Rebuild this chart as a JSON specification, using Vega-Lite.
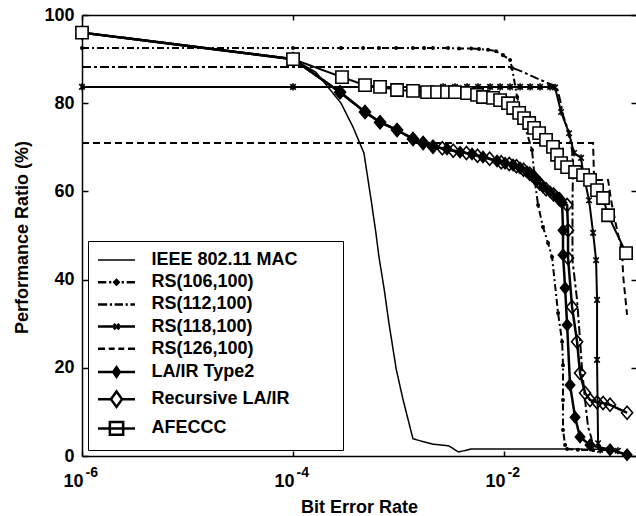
{
  "$schema": "https://vega.github.io/schema/vega-lite/v6.json",
  "width": 554,
  "height": 441,
  "autosize": {"type": "none"},
  "padding": {"left": 82, "top": 15, "right": 0, "bottom": 60},
  "config": {"view": {"stroke": null}, "font": "Liberation Sans"},
  "data": {"values": [
    {"s":"IEEE 802.11 MAC","ber":1e-6,"pr":96},{"s":"IEEE 802.11 MAC","ber":1e-4,"pr":90},{"s":"IEEE 802.11 MAC","ber":1.65e-4,"pr":87},{"s":"IEEE 802.11 MAC","ber":2.19e-4,"pr":83.4},{"s":"IEEE 802.11 MAC","ber":2.85e-4,"pr":80},{"s":"IEEE 802.11 MAC","ber":3.7e-4,"pr":74.6},{"s":"IEEE 802.11 MAC","ber":4.7e-4,"pr":68.7},{"s":"IEEE 802.11 MAC","ber":5.5e-4,"pr":58},{"s":"IEEE 802.11 MAC","ber":6.1e-4,"pr":50.6},{"s":"IEEE 802.11 MAC","ber":6.5e-4,"pr":45.4},{"s":"IEEE 802.11 MAC","ber":7.3e-4,"pr":37.9},{"s":"IEEE 802.11 MAC","ber":8.1e-4,"pr":30.2},{"s":"IEEE 802.11 MAC","ber":9.5e-4,"pr":19.7},{"s":"IEEE 802.11 MAC","ber":1.1e-3,"pr":12.9},{"s":"IEEE 802.11 MAC","ber":1.37e-3,"pr":3.9},{"s":"IEEE 802.11 MAC","ber":2.1e-3,"pr":2.7},{"s":"IEEE 802.11 MAC","ber":3.0e-3,"pr":2.3},{"s":"IEEE 802.11 MAC","ber":3.7e-3,"pr":0.9},{"s":"IEEE 802.11 MAC","ber":4.9e-3,"pr":1.6},{"s":"IEEE 802.11 MAC","ber":0.04,"pr":1.6},{"s":"IEEE 802.11 MAC","ber":0.09,"pr":1.5},

    {"s":"RS(106,100)","ber":1e-6,"pr":92.5},{"s":"RS(106,100)","ber":1e-4,"pr":92.5},{"s":"RS(106,100)","ber":2.85e-4,"pr":92.5},{"s":"RS(106,100)","ber":4.61e-4,"pr":92.5},{"s":"RS(106,100)","ber":6.53e-4,"pr":92.5},{"s":"RS(106,100)","ber":9.47e-4,"pr":92.5},{"s":"RS(106,100)","ber":1.37e-3,"pr":92.5},{"s":"RS(106,100)","ber":1.745e-3,"pr":92.5},{"s":"RS(106,100)","ber":2.12e-3,"pr":92.5},{"s":"RS(106,100)","ber":2.945e-3,"pr":92.5},{"s":"RS(106,100)","ber":3.75e-3,"pr":92.4},{"s":"RS(106,100)","ber":4.87e-3,"pr":92.4},{"s":"RS(106,100)","ber":5.79e-3,"pr":92.3},{"s":"RS(106,100)","ber":7.05e-3,"pr":92.1},{"s":"RS(106,100)","ber":8.39e-3,"pr":91.8},{"s":"RS(106,100)","ber":9.78e-3,"pr":90.9},{"s":"RS(106,100)","ber":0.0114,"pr":89.8},{"s":"RS(106,100)","ber":0.0119,"pr":88.0},{"s":"RS(106,100)","ber":0.0133,"pr":81.4},{"s":"RS(106,100)","ber":0.0151,"pr":76.2},{"s":"RS(106,100)","ber":0.0184,"pr":69.4},{"s":"RS(106,100)","ber":0.0197,"pr":61.9},{"s":"RS(106,100)","ber":0.021,"pr":56.9},{"s":"RS(106,100)","ber":0.0234,"pr":51.9},{"s":"RS(106,100)","ber":0.0261,"pr":48.3},{"s":"RS(106,100)","ber":0.0285,"pr":45.1},{"s":"RS(106,100)","ber":0.0325,"pr":32.4},{"s":"RS(106,100)","ber":0.0355,"pr":25.9},{"s":"RS(106,100)","ber":0.0362,"pr":20.6},{"s":"RS(106,100)","ber":0.0362,"pr":12.7},{"s":"RS(106,100)","ber":0.0362,"pr":5.9},{"s":"RS(106,100)","ber":0.0379,"pr":2.5},{"s":"RS(106,100)","ber":0.0396,"pr":1.6},{"s":"RS(106,100)","ber":0.05,"pr":1.4},{"s":"RS(106,100)","ber":0.07,"pr":1.3},

    {"s":"RS(112,100)","ber":1e-6,"pr":88.2},{"s":"RS(112,100)","ber":1e-4,"pr":88.2},{"s":"RS(112,100)","ber":0.0114,"pr":88.2},{"s":"RS(112,100)","ber":0.0151,"pr":87.1},{"s":"RS(112,100)","ber":0.022,"pr":85.3},{"s":"RS(112,100)","ber":0.0291,"pr":84.1},{"s":"RS(112,100)","ber":0.0318,"pr":83.4},{"s":"RS(112,100)","ber":0.034,"pr":80.7},{"s":"RS(112,100)","ber":0.0362,"pr":77.3},{"s":"RS(112,100)","ber":0.0404,"pr":73.9},{"s":"RS(112,100)","ber":0.0441,"pr":69.4},{"s":"RS(112,100)","ber":0.0451,"pr":65.5},{"s":"RS(112,100)","ber":0.0445,"pr":58},{"s":"RS(112,100)","ber":0.0445,"pr":44.4},{"s":"RS(112,100)","ber":0.0492,"pr":35.4},{"s":"RS(112,100)","ber":0.0525,"pr":26.3},{"s":"RS(112,100)","ber":0.0549,"pr":19.5},{"s":"RS(112,100)","ber":0.0586,"pr":12.7},{"s":"RS(112,100)","ber":0.0625,"pr":6.6},{"s":"RS(112,100)","ber":0.0668,"pr":4.3},{"s":"RS(112,100)","ber":0.0698,"pr":2.0},{"s":"RS(112,100)","ber":0.101,"pr":1.4},

    {"s":"RS(118,100)","ber":1e-6,"pr":83.7},{"s":"RS(118,100)","ber":1e-4,"pr":83.7},{"s":"RS(118,100)","ber":2.64e-3,"pr":83.7},{"s":"RS(118,100)","ber":3.43e-3,"pr":83.7},{"s":"RS(118,100)","ber":4.46e-3,"pr":83.7},{"s":"RS(118,100)","ber":5.67e-3,"pr":83.7},{"s":"RS(118,100)","ber":7.37e-3,"pr":83.7},{"s":"RS(118,100)","ber":9.17e-3,"pr":83.7},{"s":"RS(118,100)","ber":0.0114,"pr":83.7},{"s":"RS(118,100)","ber":0.01418,"pr":83.7},{"s":"RS(118,100)","ber":0.01764,"pr":83.7},{"s":"RS(118,100)","ber":0.02194,"pr":83.7},{"s":"RS(118,100)","ber":0.0273,"pr":83.7},{"s":"RS(118,100)","ber":0.0304,"pr":83.6},{"s":"RS(118,100)","ber":0.0347,"pr":78.0},{"s":"RS(118,100)","ber":0.0413,"pr":73.2},{"s":"RS(118,100)","ber":0.0461,"pr":68.7},{"s":"RS(118,100)","ber":0.0537,"pr":67.6},{"s":"RS(118,100)","ber":0.0561,"pr":64.2},{"s":"RS(118,100)","ber":0.0639,"pr":58.0},{"s":"RS(118,100)","ber":0.0698,"pr":50.6},{"s":"RS(118,100)","ber":0.0745,"pr":44.4},{"s":"RS(118,100)","ber":0.0761,"pr":35.4},{"s":"RS(118,100)","ber":0.0761,"pr":21.8},{"s":"RS(118,100)","ber":0.0778,"pr":2.9},{"s":"RS(118,100)","ber":0.0813,"pr":1.4},{"s":"RS(118,100)","ber":0.12,"pr":1.2},

    {"s":"RS(126,100)","ber":1e-6,"pr":71},{"s":"RS(126,100)","ber":1e-4,"pr":71},{"s":"RS(126,100)","ber":0.0698,"pr":71},{"s":"RS(126,100)","ber":0.0713,"pr":62.6},{"s":"RS(126,100)","ber":0.0968,"pr":62.6},{"s":"RS(126,100)","ber":0.1033,"pr":58},{"s":"RS(126,100)","ber":0.1178,"pr":51.2},{"s":"RS(126,100)","ber":0.1314,"pr":46.7},{"s":"RS(126,100)","ber":0.1343,"pr":41},{"s":"RS(126,100)","ber":0.1465,"pr":32},

    {"s":"Recursive LA/IR","ber":1e-6,"pr":96},{"s":"Recursive LA/IR","ber":1e-4,"pr":90},{"s":"Recursive LA/IR","ber":2.79e-4,"pr":82.5},{"s":"Recursive LA/IR","ber":4.81e-4,"pr":78.0},{"s":"Recursive LA/IR","ber":6.68e-4,"pr":75.7},{"s":"Recursive LA/IR","ber":9.68e-4,"pr":73.9},{"s":"Recursive LA/IR","ber":1.37e-3,"pr":71.9},{"s":"Recursive LA/IR","ber":1.71e-3,"pr":71.0},{"s":"Recursive LA/IR","ber":2.12e-3,"pr":70.1},{"s":"Recursive LA/IR","ber":2.6e-3,"pr":69.8},{"s":"Recursive LA/IR","ber":3.3e-3,"pr":69.2},{"s":"Recursive LA/IR","ber":4.4e-3,"pr":68.7},{"s":"Recursive LA/IR","ber":5.6e-3,"pr":68.1},{"s":"Recursive LA/IR","ber":7.3e-3,"pr":67.4},{"s":"Recursive LA/IR","ber":9.4e-3,"pr":66.6},{"s":"Recursive LA/IR","ber":0.0112,"pr":66.2},{"s":"Recursive LA/IR","ber":0.0131,"pr":65.7},{"s":"Recursive LA/IR","ber":0.0153,"pr":64.9},{"s":"Recursive LA/IR","ber":0.0175,"pr":64.0},{"s":"Recursive LA/IR","ber":0.0195,"pr":63.1},{"s":"Recursive LA/IR","ber":0.0218,"pr":61.8},{"s":"Recursive LA/IR","ber":0.025,"pr":60.5},{"s":"Recursive LA/IR","ber":0.0295,"pr":59.3},{"s":"Recursive LA/IR","ber":0.0335,"pr":58.2},{"s":"Recursive LA/IR","ber":0.0396,"pr":56.9},{"s":"Recursive LA/IR","ber":0.0404,"pr":51.2},{"s":"Recursive LA/IR","ber":0.0404,"pr":44.9},{"s":"Recursive LA/IR","ber":0.0441,"pr":33.8},{"s":"Recursive LA/IR","ber":0.0492,"pr":25.9},{"s":"Recursive LA/IR","ber":0.0525,"pr":18.8},{"s":"Recursive LA/IR","ber":0.0586,"pr":14.3},{"s":"Recursive LA/IR","ber":0.0653,"pr":12.7},{"s":"Recursive LA/IR","ber":0.0761,"pr":12.2},{"s":"Recursive LA/IR","ber":0.0868,"pr":12.0},{"s":"Recursive LA/IR","ber":0.101,"pr":11.6},{"s":"Recursive LA/IR","ber":0.1465,"pr":9.8},

    {"s":"LA/IR Type2","ber":1e-6,"pr":96},{"s":"LA/IR Type2","ber":1e-4,"pr":90},{"s":"LA/IR Type2","ber":2.79e-4,"pr":82.5},{"s":"LA/IR Type2","ber":4.81e-4,"pr":78.0},{"s":"LA/IR Type2","ber":6.68e-4,"pr":75.7},{"s":"LA/IR Type2","ber":9.68e-4,"pr":73.9},{"s":"LA/IR Type2","ber":1.37e-3,"pr":71.9},{"s":"LA/IR Type2","ber":1.71e-3,"pr":71.0},{"s":"LA/IR Type2","ber":2.12e-3,"pr":70.1},{"s":"LA/IR Type2","ber":2.88e-3,"pr":69.6},{"s":"LA/IR Type2","ber":3.83e-3,"pr":68.9},{"s":"LA/IR Type2","ber":4.97e-3,"pr":68.5},{"s":"LA/IR Type2","ber":6.32e-3,"pr":67.8},{"s":"LA/IR Type2","ber":8.58e-3,"pr":66.9},{"s":"LA/IR Type2","ber":0.01022,"pr":66.4},{"s":"LA/IR Type2","ber":0.01217,"pr":66.0},{"s":"LA/IR Type2","ber":0.01418,"pr":65.3},{"s":"LA/IR Type2","ber":0.01652,"pr":64.4},{"s":"LA/IR Type2","ber":0.0184,"pr":63.5},{"s":"LA/IR Type2","ber":0.02055,"pr":62.6},{"s":"LA/IR Type2","ber":0.0234,"pr":61.0},{"s":"LA/IR Type2","ber":0.0273,"pr":59.9},{"s":"LA/IR Type2","ber":0.0318,"pr":58.7},{"s":"LA/IR Type2","ber":0.0355,"pr":57.4},{"s":"LA/IR Type2","ber":0.0362,"pr":51.2},{"s":"LA/IR Type2","ber":0.0362,"pr":45.6},{"s":"LA/IR Type2","ber":0.0379,"pr":38.1},{"s":"LA/IR Type2","ber":0.0396,"pr":29.7},{"s":"LA/IR Type2","ber":0.0422,"pr":16.1},{"s":"LA/IR Type2","ber":0.0471,"pr":8.8},{"s":"LA/IR Type2","ber":0.0525,"pr":4.3},{"s":"LA/IR Type2","ber":0.0653,"pr":2.5},{"s":"LA/IR Type2","ber":0.101,"pr":1.4},{"s":"LA/IR Type2","ber":0.1465,"pr":0.3},

    {"s":"AFECCC","ber":1e-6,"pr":96},{"s":"AFECCC","ber":1e-4,"pr":90},{"s":"AFECCC","ber":2.91e-4,"pr":85.9},{"s":"AFECCC","ber":4.81e-4,"pr":84.1},{"s":"AFECCC","ber":6.68e-4,"pr":83.7},{"s":"AFECCC","ber":9.68e-4,"pr":83.0},{"s":"AFECCC","ber":1.37e-3,"pr":82.8},{"s":"AFECCC","ber":1.862e-3,"pr":82.5},{"s":"AFECCC","ber":2.317e-3,"pr":82.5},{"s":"AFECCC","ber":2.88e-3,"pr":82.5},{"s":"AFECCC","ber":3.43e-3,"pr":82.5},{"s":"AFECCC","ber":4.46e-3,"pr":82.3},{"s":"AFECCC","ber":5.55e-3,"pr":81.9},{"s":"AFECCC","ber":6.32e-3,"pr":81.4},{"s":"AFECCC","ber":7.86e-3,"pr":81.2},{"s":"AFECCC","ber":9.17e-3,"pr":80.7},{"s":"AFECCC","ber":0.0109,"pr":80.0},{"s":"AFECCC","ber":0.0122,"pr":78.9},{"s":"AFECCC","ber":0.0139,"pr":77.8},{"s":"AFECCC","ber":0.01547,"pr":76.6},{"s":"AFECCC","ber":0.0173,"pr":75.5},{"s":"AFECCC","ber":0.01925,"pr":74.4},{"s":"AFECCC","ber":0.0215,"pr":73.2},{"s":"AFECCC","ber":0.025,"pr":71.7},{"s":"AFECCC","ber":0.0291,"pr":70.1},{"s":"AFECCC","ber":0.0318,"pr":68.3},{"s":"AFECCC","ber":0.0347,"pr":66.4},{"s":"AFECCC","ber":0.0396,"pr":65.5},{"s":"AFECCC","ber":0.0471,"pr":64.4},{"s":"AFECCC","ber":0.0561,"pr":63.7},{"s":"AFECCC","ber":0.0653,"pr":62.6},{"s":"AFECCC","ber":0.0761,"pr":60.3},{"s":"AFECCC","ber":0.0868,"pr":58.5},{"s":"AFECCC","ber":0.0968,"pr":54.6},{"s":"AFECCC","ber":0.1434,"pr":46.0}
  ]},
  "layer": [
    {
      "mark": {"type": "line", "clip": false, "color": "black"},
      "encoding": {
        "x": {"field": "ber", "type": "quantitative",
          "scale": {"type": "log", "domain": [1e-6, 0.178], "nice": false},
          "axis": {"orient": "bottom", "values": [1e-6, 1e-4, 1e-2], "labelExpr": "'10'",
            "labelAlign": "right", "labelOffset": 1, "labelBaseline": "top", "labelPadding": 21,
            "labelFlush": false, "labelOverlap": false, "labelBound": false,
            "labelFont": "Liberation Sans", "labelFontSize": 18, "labelFontWeight": "bold", "labelColor": "black",
            "tickSize": -5, "tickWidth": 1.5, "tickColor": "black", "domainColor": "black", "domainWidth": 1.5, "grid": false,
            "title": "Bit Error Rate", "titleFont": "Liberation Sans", "titleFontSize": 18, "titleFontWeight": "bold", "titleColor": "black",
            "titleBaseline": "alphabetic", "titleAlign": "center", "titleX": 277, "titleY": 56}},
        "y": {"field": "pr", "type": "quantitative",
          "scale": {"domain": [0, 100], "nice": false, "zero": false},
          "axis": {"orient": "left", "values": [0, 20, 40, 60, 80, 100],
            "labelPadding": 14, "labelFlush": false, "labelOverlap": false, "labelBound": false,
            "labelFont": "Liberation Sans", "labelFontSize": 18, "labelFontWeight": "bold", "labelColor": "black",
            "tickSize": -6, "tickWidth": 1.5, "tickColor": "black", "domainColor": "black", "domainWidth": 1.5, "grid": false,
            "title": "Performance Ratio (%)", "titleFont": "Liberation Sans", "titleFontSize": 18, "titleFontWeight": "bold", "titleColor": "black",
            "titleAngle": -90, "titleBaseline": "alphabetic", "titleAlign": "center", "titleX": -55, "titleY": 222}},
        "detail": {"field": "s", "type": "nominal"},
        "strokeDash": {"field": "s", "type": "nominal",
          "scale": {"domain": ["IEEE 802.11 MAC", "RS(106,100)", "RS(112,100)", "RS(118,100)", "RS(126,100)", "LA/IR Type2", "Recursive LA/IR", "AFECCC"],
                    "range": [[1, 0], [7, 3, 2, 3], [9, 3, 3, 3], [1, 0], [7, 4], [1, 0], [1, 0], [1, 0]]},
          "legend": null},
        "strokeWidth": {"field": "s", "type": "nominal",
          "scale": {"type": "ordinal", "domain": ["IEEE 802.11 MAC", "RS(106,100)", "RS(112,100)", "RS(118,100)", "RS(126,100)", "LA/IR Type2", "Recursive LA/IR", "AFECCC"],
                    "range": [1.5, 2, 2, 2, 2, 2.5, 2.5, 2]},
          "legend": null},
        "order": {"value": null}
      }
    },
    {
      "transform": [{"filter": {"field": "s", "oneOf": ["RS(106,100)", "RS(118,100)", "Recursive LA/IR", "LA/IR Type2", "AFECCC"]}}],
      "mark": {"type": "point", "stroke": "black", "strokeWidth": 1.6, "opacity": 1, "clip": false},
      "encoding": {
        "x": {"field": "ber", "type": "quantitative",
          "scale": {"type": "log", "domain": [1e-6, 0.178], "nice": false},
          "axis": {"orient": "top", "values": [1e-6, 1e-4, 1e-2],
            "labelExpr": "datum.value < 1e-5 ? '-6' : datum.value < 1e-3 ? '-4' : '-2'",
            "labelAlign": "left", "labelOffset": 3, "labelBaseline": "alphabetic", "labelPadding": -456,
            "labelFlush": false, "labelOverlap": false, "labelBound": false,
            "labelFont": "Liberation Sans", "labelFontSize": 14, "labelFontWeight": "bold", "labelColor": "black",
            "tickSize": -5, "tickWidth": 1.5, "tickColor": "black", "domainColor": "black", "domainWidth": 1.5, "grid": false, "title": null}},
        "y": {"field": "pr", "type": "quantitative",
          "scale": {"domain": [0, 100], "nice": false, "zero": false},
          "axis": {"orient": "right", "values": [0, 20, 40, 60, 80, 100], "labels": false,
            "tickSize": -5, "tickWidth": 1.5, "tickColor": "black", "domain": false, "grid": false, "title": null}},
        "shape": {"field": "s", "type": "nominal",
          "scale": {"domain": ["RS(106,100)", "RS(118,100)", "Recursive LA/IR", "LA/IR Type2", "AFECCC"],
                    "range": ["circle", "M-1,-1L1,1M-1,1L1,-1M0,-1.3V1.3", "M-0.85,0L0,-1L0.85,0L0,1Z", "M-0.85,0L0,-1L0.85,0L0,1Z", "square"]},
          "legend": null},
        "fill": {"field": "s", "type": "nominal",
          "scale": {"domain": ["RS(106,100)", "RS(118,100)", "Recursive LA/IR", "LA/IR Type2", "AFECCC"],
                    "range": ["black", "transparent", "transparent", "black", "white"]},
          "legend": null},
        "size": {"field": "s", "type": "nominal",
          "scale": {"type": "ordinal", "domain": ["RS(106,100)", "RS(118,100)", "Recursive LA/IR", "LA/IR Type2", "AFECCC"],
                    "range": [6, 30, 170, 120, 150]},
          "legend": null}
      }
    },
    {
      "transform": [{"filter": "false"}],
      "mark": {"type": "point", "stroke": "black", "opacity": 1},
      "encoding": {
        "shape": {"field": "s", "type": "nominal",
          "scale": {"domain": ["IEEE 802.11 MAC", "RS(106,100)", "RS(112,100)", "RS(118,100)", "RS(126,100)", "LA/IR Type2", "Recursive LA/IR", "AFECCC"],
                    "range": [
                      "M-3.7,0H3.7",
                      "M-3.7,0H-2.04M-1.48,0H-1.04M-0.52,0H0.52M1.04,0H1.48M2.04,0H3.7M-0.44,0L0,-0.44L0.44,0L0,0.44Z",
                      "M-3.7,0H-1.85M-1.33,0H-0.89M-0.37,0H1.3M1.81,0H2.26M2.78,0H3.7",
                      "M-3.7,0H3.7M-0.55,-0.55L0.55,0.55M-0.55,0.55L0.55,-0.55",
                      "M-3.7,0H-2.3M-1.55,0H-0.37M0.37,0H1.55M2.3,0H3.7",
                      "M-3.7,0H3.7M-0.67,0L0,-0.96L0.67,0L0,0.96Z",
                      "M-3.7,0H-1.11M1.11,0H3.7M-1.11,0L0,-1.55L1.11,0L0,1.55Z",
                      "M-3.7,0H3.7M-1.33,-1.26H1.33V1.26H-1.33Z"]},
          "legend": {"title": null, "orient": "bottom-left", "offset": 6, "padding": 10,
            "strokeColor": "black", "fillColor": "white",
            "labelFont": "Liberation Sans", "labelFontSize": 18, "labelFontWeight": "bold", "labelColor": "black",
            "symbolOffset": 9.5, "labelOffset": 26, "rowPadding": 4.2, "symbolSize": 100, "labelLimit": 400,
            "labelExpr": "datum.label + '\u00a0\u00a0\u00a0\u00a0\u00a0\u00a0\u00a0\u200b'"}},
        "fill": {"field": "s", "type": "nominal",
          "scale": {"domain": ["IEEE 802.11 MAC", "RS(106,100)", "RS(112,100)", "RS(118,100)", "RS(126,100)", "LA/IR Type2", "Recursive LA/IR", "AFECCC"],
                    "range": ["transparent", "black", "transparent", "transparent", "transparent", "black", "transparent", "transparent"]},
          "legend": {"title": null, "orient": "bottom-left"}},
        "strokeWidth": {"field": "s", "type": "nominal",
          "scale": {"type": "ordinal", "domain": ["IEEE 802.11 MAC", "RS(106,100)", "RS(112,100)", "RS(118,100)", "RS(126,100)", "LA/IR Type2", "Recursive LA/IR", "AFECCC"],
                    "range": [1.5, 2.5, 2.5, 2.5, 2.5, 2.5, 2.5, 2.5]},
          "legend": {"title": null, "orient": "bottom-left"}}
      }
    }
  ],
  "resolve": {
    "axis": {"x": "independent", "y": "independent"},
    "scale": {"shape": "independent", "fill": "independent", "strokeWidth": "independent", "size": "independent"}
  }
}
